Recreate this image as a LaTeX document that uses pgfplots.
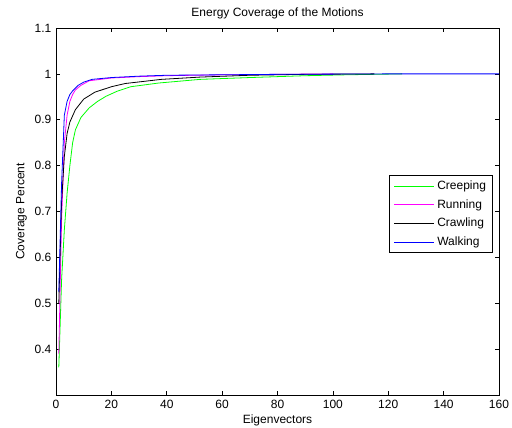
\documentclass[border=0pt]{standalone}
\usepackage{fontspec}
\setmainfont{Liberation Sans}
\usepackage{pgfplots}
\pgfplotsset{compat=1.18}
\definecolor{mgreen}{rgb}{0,1,0}
\definecolor{mmagenta}{rgb}{1,0,1}
\definecolor{mblue}{rgb}{0,0,1}

\begin{document}
\begin{tikzpicture}
\begin{axis}[
    name=ax,
    scale only axis,
    width=332pt, height=275pt,
    xmin=0, xmax=160, ymin=0.3, ymax=1.1,
    xtick={0,20,...,160},
    ytick={0.4,0.5,0.6,0.7,0.8,0.9,1,1.1},
    yticklabels={0.4,0.5,0.6,0.7,0.8,0.9,1,1.1},
    tick align=inside,
    major tick length=3pt,
    axis line style={line width=0.6pt},
    tick style={black, line width=0.5pt},
    font=\fontsize{9}{10.5}\selectfont,
    /pgf/number format/assume math mode=true,
    title={Energy Coverage of the Motions},
    title style={yshift=-3pt},
    xlabel={Eigenvectors},
    ylabel={Coverage Percent},
    xlabel style={yshift=1.5pt},
    ylabel style={yshift=-1pt},
    legend style={at={(0.9865,0.5995)}, anchor=north east,
        draw=black, line width=0.5pt, font=\fontsize{9}{10.5}\selectfont,
        row sep=2pt, inner xsep=3pt, inner ysep=2pt},
    legend cell align=left,
    legend image code/.code={\draw[#1, line width=0.7pt] (0cm,0cm) -- (1.05cm,0cm);},
    every axis plot/.append style={line width=0.6pt},
]
\addplot[mgreen] coordinates {
    (1,0.36) (2,0.55) (3,0.66) (4,0.74) (5,0.80) (6,0.85) (7,0.878)
    (9,0.905) (12,0.926) (15,0.940) (18,0.951) (22,0.962) (27,0.972)
    (37,0.980) (52,0.988) (70,0.992) (90,0.996) (105,0.998) (125,1.0)
};
\addlegendentry{Creeping}
\addplot[mmagenta] coordinates {
    (1,0.39) (2,0.68) (3,0.85) (4,0.91) (5,0.94) (6,0.955) (7,0.965)
    (9,0.975) (12,0.985) (20,0.991) (30,0.994) (40,0.996) (60,0.998)
    (80,0.999) (100,1.0)
};
\addlegendentry{Running}
\addplot[black] coordinates {
    (1,0.50) (2,0.72) (3,0.82) (4,0.87) (5,0.895) (7,0.922) (10,0.945)
    (14,0.960) (20,0.972) (25,0.979) (38,0.988) (52,0.993) (70,0.997)
    (90,0.999) (115,1.0)
};
\addlegendentry{Crawling}
\addplot[mblue] coordinates {
    (1,0.525) (2,0.76) (3,0.91) (4,0.94) (5,0.955) (6,0.963) (8,0.975)
    (10,0.982) (13,0.988) (20,0.992) (30,0.995) (40,0.997) (60,0.998)
    (80,0.999) (100,0.9995) (120,1.0) (160,1.0)
};
\addlegendentry{Walking}
\end{axis}
\pgfresetboundingbox
\path[use as bounding box] ([xshift=-42pt,yshift=-24.75pt]ax.south west)
    rectangle ([xshift=9.75pt,yshift=21pt]ax.north east);
\end{tikzpicture}
\end{document}
